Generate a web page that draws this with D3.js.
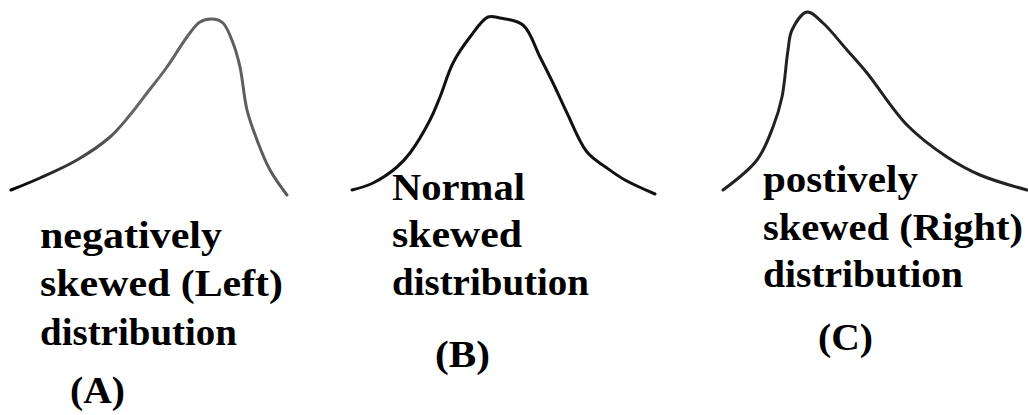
<!DOCTYPE html>
<html>
<head>
<meta charset="utf-8">
<script src="https://cdn.jsdelivr.net/npm/d3@7"></script>
<style>
  html, body { margin: 0; padding: 0; background: #fff; }
  svg { display: block; }
</style>
</head>
<body>
<div id="chart"></div>
<script>
// Curve samples: x position and density height for each distribution
var xsA = [11, 40, 77, 110, 130, 147, 167, 187, 200, 213, 223, 233, 240, 247, 257, 270, 287];
var hsA = [10, 22, 40, 63, 85, 107, 133, 163, 178, 181, 177, 157, 133, 90, 60, 30, 5];

var xsB = [352, 373, 397, 410, 430, 440, 453, 470, 488, 500, 523, 540, 553, 567, 587, 607, 625, 655];
var hsB = [10, 17, 33, 47, 80, 103, 137, 163, 183, 182, 175, 143, 117, 87, 48, 32, 20, 6];

var xsC = [723, 757, 773, 782, 788, 792, 807, 823, 847, 867, 907, 947, 980, 1027];
var hsC = [10, 40, 73, 103, 150, 170, 188, 177, 150, 127, 75, 43, 25, 10];

// Label lines for each curve
var labelsA = ["negatively", "skewed (Left)", "distribution"];
var labelsB = ["Normal", "skewed", "distribution"];
var labelsC = ["postively", "skewed (Right)", "distribution"];
var letters = ["(A)", "(B)", "(C)"];

var width = 1028, height = 415;

var svg = d3.select("#chart").append("svg")
    .attr("width", width)
    .attr("height", height);

// Scales
var x = d3.scaleLinear().domain([0, 1028]).range([0, 1028]);
var y = d3.scaleLinear().domain([0, 200]).range([200, 0]);

var line = d3.line()
    .x(function (d) { return x(d[0]); })
    .y(function (d) { return y(d[1]); })
    .curve(d3.curveCatmullRom.alpha(0.5));

// Gradient for curve A (dark left tail fading to grey)
var defs = svg.append("defs");
var grad = defs.append("linearGradient")
    .attr("id", "gradA")
    .attr("gradientUnits", "userSpaceOnUse")
    .attr("x1", x(11)).attr("x2", x(287))
    .attr("y1", 0).attr("y2", 0);
grad.append("stop").attr("offset", "0%").attr("stop-color", "#000");
grad.append("stop").attr("offset", "25%").attr("stop-color", "#444");
grad.append("stop").attr("offset", "45%").attr("stop-color", "#666");
grad.append("stop").attr("offset", "100%").attr("stop-color", "#5a5a5a");

var curves = [
    { xs: xsA, hs: hsA, color: "url(#gradA)" },
    { xs: xsB, hs: hsB, color: "#111" },
    { xs: xsC, hs: hsC, color: "#222" }
];

curves.forEach(function (c) {
    svg.append("path")
        .datum(d3.zip(c.xs, c.hs))
        .attr("fill", "none")
        .attr("stroke", c.color)
        .attr("stroke-width", 3)
        .attr("stroke-linecap", "round")
        .attr("stroke-linejoin", "round")
        .attr("d", line);
});

// Labels
var blocks = [
    { lines: labelsA, x: 40, y: [248, 296, 345], w: [182, 243, 197], letter: letters[0], lx: 70, ly: 403, lw: 55 },
    { lines: labelsB, x: 392, y: [200, 247, 295], w: [133, 130, 197], letter: letters[1], lx: 435, ly: 367, lw: 55 },
    { lines: labelsC, x: 763, y: [192, 240, 287], w: [155, 260, 200], letter: letters[2], lx: 818, ly: 350, lw: 55 }
];

function addText(str, tx, ty, tw) {
    svg.append("text")
        .attr("x", tx)
        .attr("y", ty)
        .attr("textLength", tw)
        .attr("lengthAdjust", "spacingAndGlyphs")
        .attr("font-family", "Liberation Serif, DejaVu Serif, serif")
        .attr("font-weight", "bold")
        .attr("font-size", 38)
        .attr("fill", "#000")
        .text(str);
}

blocks.forEach(function (b) {
    b.lines.forEach(function (s, i) {
        addText(s, b.x, b.y[i], b.w[i]);
    });
    addText(b.letter, b.lx, b.ly, b.lw);
});
</script>
</body>
</html>
